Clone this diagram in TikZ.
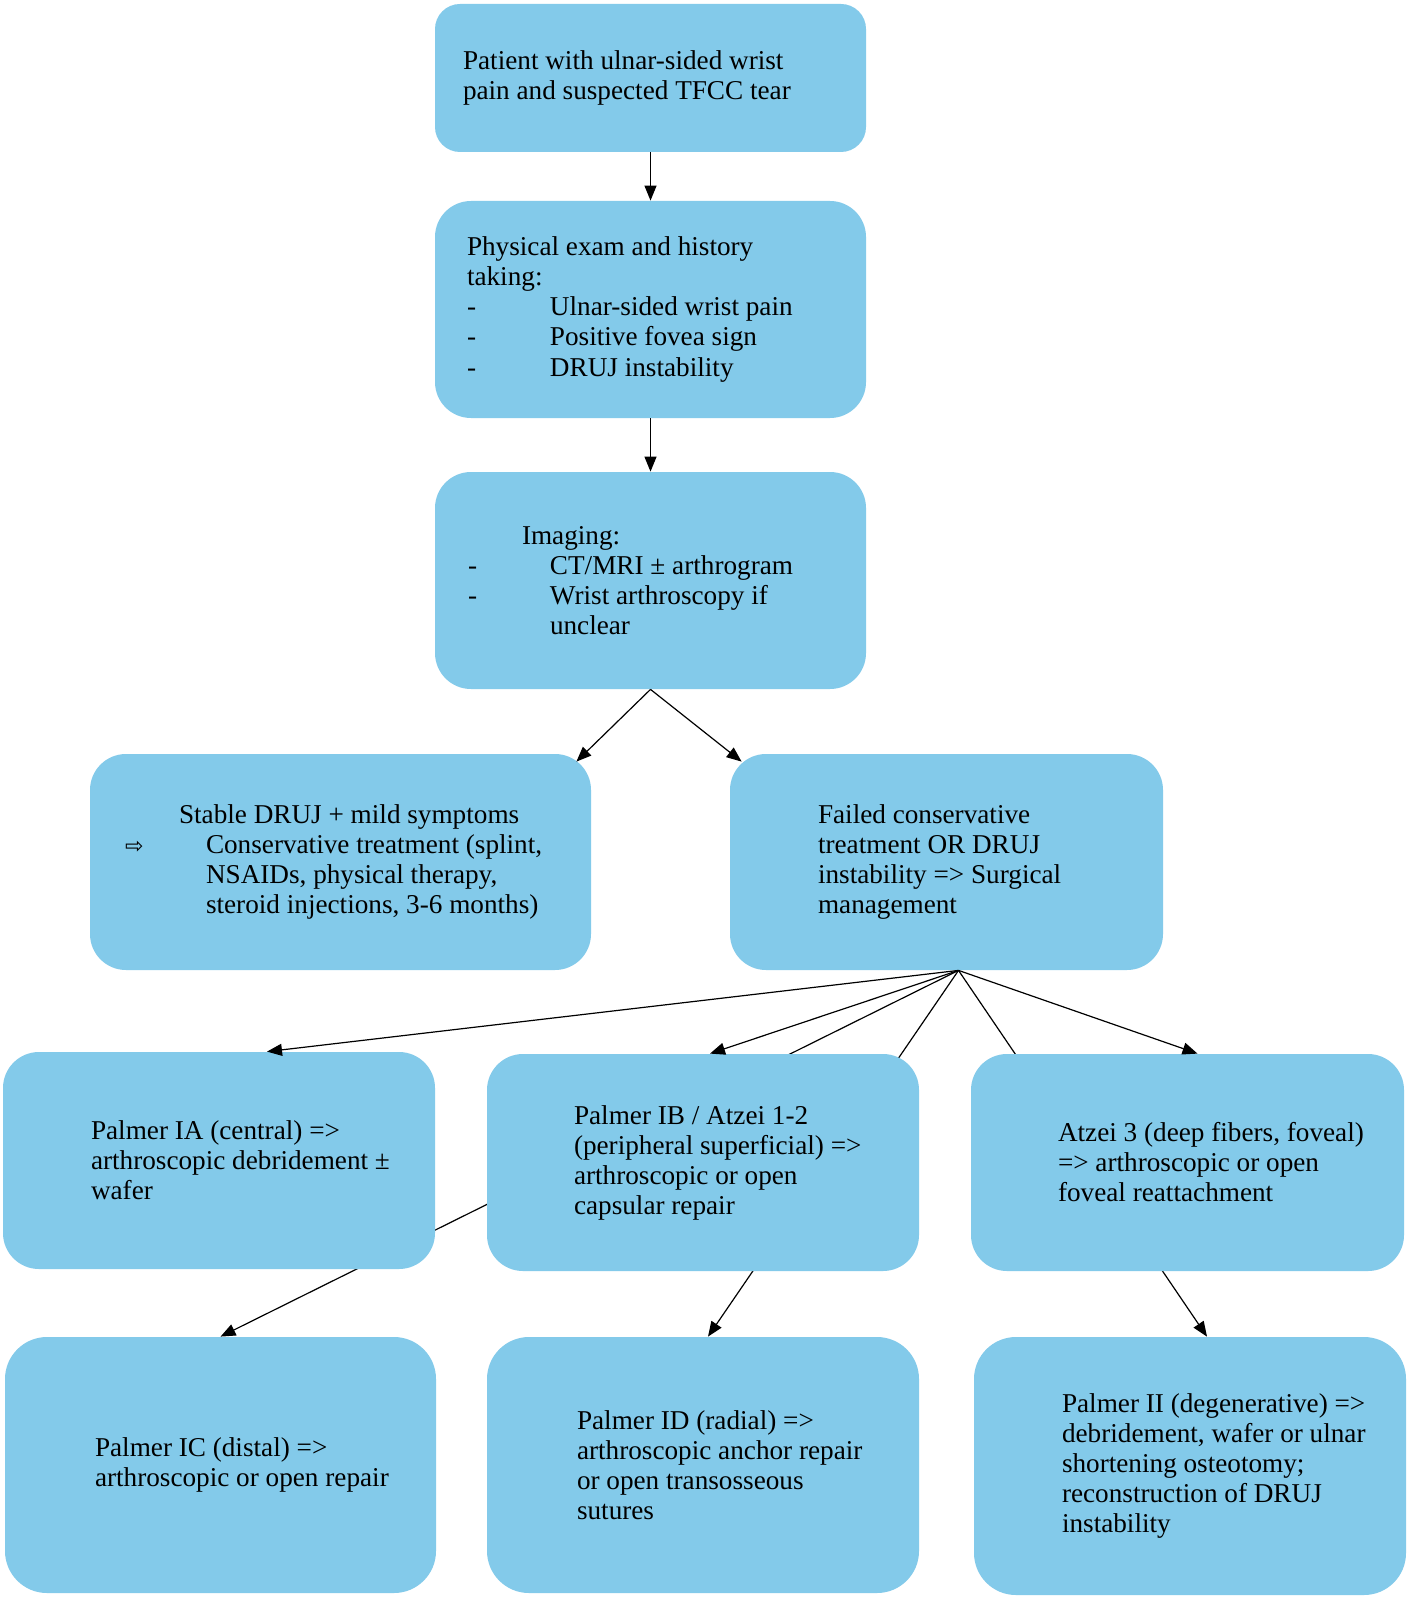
\documentclass[tikz,border=0pt]{standalone}
\usepackage{fontspec}
\setmainfont{Liberation Serif}
\newfontfamily\arrowfont{DejaVu Sans}
\usetikzlibrary{arrows.meta,backgrounds}
\definecolor{boxblue}{RGB}{131,202,234}
\begin{document}
\begin{tikzpicture}[x=0.5pt,y=-0.5pt,
        flowbox/.style={fill=boxblue, draw=none, inner sep=0pt, align=flush left,
            font=\fontsize{13.6}{15}\selectfont, text width=216pt,
            minimum height=108.5pt, rounded corners=18pt},
        pad/.style={execute at begin node={\leftskip=#1}},
        conn/.style={-{Triangle[length=7.5pt,width=6pt]}, line width=0.6pt}]
        \useasboundingbox (0,0) rectangle (1413,1599);
        % top column
        \node[flowbox, pad=14pt, text width=215.5pt, minimum height=74pt, rounded corners=12.5pt] (patient) at (650.5,78)
            {Patient with ulnar-sided wrist\\pain and suspected TFCC tear};
        \node[flowbox, pad=16pt, text width=215.5pt] (exam) at (650.5,309.5)
            {Physical exam and history\\taking:\\
             \makebox[41.5pt][l]{-}Ulnar-sided wrist pain\\
             \makebox[41.5pt][l]{-}Positive fovea sign\\
             \makebox[41.5pt][l]{-}DRUJ instability};
        \node[flowbox, pad=16.5pt, text width=215.5pt] (imaging) at (650.5,580.5)
            {\hspace*{27pt}Imaging:\\
             \makebox[41pt][l]{-}CT/MRI ± arthrogram\\
             \makebox[41pt][l]{-}Wrist arthroscopy if\\
             \hspace*{41pt}unclear};
        % second row
        \node[flowbox, pad=17.5pt, text width=250.5pt, minimum height=108pt] (stable) at (340.5,862)
            {\hspace*{27pt}Stable DRUJ + mild symptoms\\
             \makebox[40.5pt][l]{\arrowfont\fontsize{11}{15}\selectfont ⇨}Conservative treatment (splint,\\
             \hspace*{40.5pt}NSAIDs, physical therapy,\\
             \hspace*{40.5pt}steroid injections, 3-6 months)};
        \node[flowbox, pad=44pt, text width=216.5pt, minimum height=108pt] (failed) at (946.5,862)
            {Failed conservative\\treatment OR DRUJ\\instability => Surgical\\management};
        % third row
        \node[flowbox, pad=44pt] (ia) at (219,1160.5)
            {Palmer IA (central) =>\\arthroscopic debridement ±\\wafer};
        \node[flowbox, pad=43.5pt] (ib) at (703,1162.5)
            {Palmer IB / Atzei 1-2\\(peripheral superficial) =>\\arthroscopic or open\\capsular repair};
        \node[flowbox, pad=43.5pt, text width=216.5pt] (atzei) at (1187.5,1162.5)
            {Atzei 3 (deep fibers, foveal)\\=> arthroscopic or open\\foveal reattachment};
        % bottom row
        \node[flowbox, pad=45pt, text width=215.5pt, minimum height=128pt, rounded corners=21pt] (ic) at (220.5,1465)
            {Palmer IC (distal) =>\\arthroscopic or open repair};
        \node[flowbox, pad=45pt, minimum height=128pt, rounded corners=21pt] (id) at (703,1465)
            {Palmer ID (radial) =>\\arthroscopic anchor repair\\or open transosseous\\sutures};
        \node[flowbox, pad=44pt, minimum height=129pt, rounded corners=21pt] (ii) at (1190,1466)
            {Palmer II (degenerative) =>\\debridement, wafer or ulnar\\shortening osteotomy;\\reconstruction of DRUJ\\instability};
        % connectors
        \draw[conn] (patient) -- (exam);
        \draw[conn] (exam) -- (imaging);
        \draw[conn] (imaging.south) -- ([xshift=-7.5pt,yshift=-4pt]stable.north east);
        \draw[conn] (imaging.south) -- ([xshift=6pt,yshift=-4pt]failed.north west);
        \coordinate (fan) at ([xshift=6pt]failed.south);
        \draw[conn] (fan) -- ([xshift=24pt]ia.north);
        \draw[conn] (fan) -- ([xshift=3.5pt]ib.north);
        \draw[conn] (fan) -- ([xshift=5pt]atzei.north);
        \begin{scope}[on background layer]
            \fill[white] (0,0) rectangle (1413,1599);
            \draw[conn] (fan) -- (ic.north);
            \draw[conn] (fan) -- ([xshift=2.5pt]id.north);
            \draw[conn] (fan) -- ([xshift=8.5pt]ii.north);
        \end{scope}
\end{tikzpicture}
\end{document}
